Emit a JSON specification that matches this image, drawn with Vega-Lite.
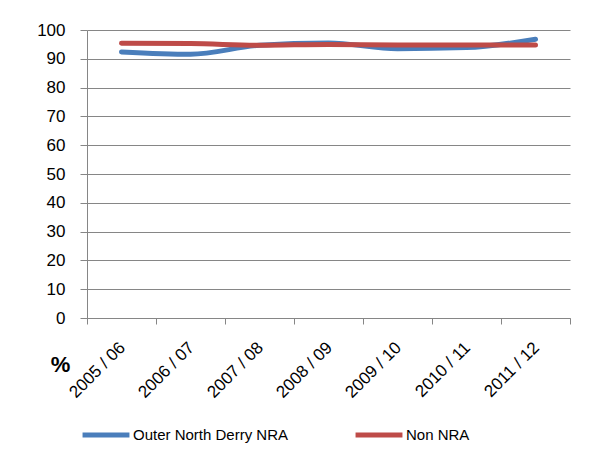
{
  "$schema": "https://vega.github.io/schema/vega-lite/v6.json",
  "autosize": "none",
  "width": 483,
  "height": 288,
  "padding": {"left": 87, "top": 30, "right": 25, "bottom": 135},
  "background": "white",
  "data": {
    "values": [
      {"year": "2005 / 06", "series": "Outer North Derry NRA", "value": 92.4},
      {"year": "2006 / 07", "series": "Outer North Derry NRA", "value": 91.6},
      {"year": "2007 / 08", "series": "Outer North Derry NRA", "value": 94.7},
      {"year": "2008 / 09", "series": "Outer North Derry NRA", "value": 95.5},
      {"year": "2009 / 10", "series": "Outer North Derry NRA", "value": 93.5},
      {"year": "2010 / 11", "series": "Outer North Derry NRA", "value": 93.9},
      {"year": "2011 / 12", "series": "Outer North Derry NRA", "value": 96.8},
      {"year": "2005 / 06", "series": "Non NRA", "value": 95.4},
      {"year": "2006 / 07", "series": "Non NRA", "value": 95.3},
      {"year": "2007 / 08", "series": "Non NRA", "value": 94.7},
      {"year": "2008 / 09", "series": "Non NRA", "value": 95.0},
      {"year": "2009 / 10", "series": "Non NRA", "value": 94.8},
      {"year": "2010 / 11", "series": "Non NRA", "value": 94.8},
      {"year": "2011 / 12", "series": "Non NRA", "value": 94.8}
    ]
  },
  "mark": {"type": "line", "strokeWidth": 5, "interpolate": "monotone", "strokeCap": "round"},
  "encoding": {
    "x": {
      "field": "year",
      "type": "nominal",
      "sort": null,
      "scale": {"type": "band", "paddingInner": 0, "paddingOuter": 0},
      "axis": {
        "title": "%",
        "titleFontSize": 22,
        "titleFontWeight": "bold",
        "titleFont": "Liberation Sans",
        "titleColor": "black",
        "titleX": -27,
        "titleY": 36,
        "titleAlign": "center",
        "tickBand": "extent",
        "tickSize": 6,
        "tickColor": "#868686",
        "domainColor": "#868686",
        "labelAngle": -45,
        "labelFont": "Liberation Sans",
        "labelFontSize": 17,
        "labelColor": "black",
        "labelPadding": 15,
        "labelOffset": -5,
        "grid": false
      }
    },
    "y": {
      "field": "value",
      "type": "quantitative",
      "scale": {"domain": [0, 100], "nice": false},
      "axis": {
        "title": null,
        "values": [0, 10, 20, 30, 40, 50, 60, 70, 80, 90, 100],
        "tickSize": 7,
        "tickColor": "#868686",
        "domainColor": "#868686",
        "gridColor": "#868686",
        "labelFont": "Liberation Sans",
        "labelFontSize": 17,
        "labelColor": "black",
        "labelPadding": 15
      }
    },
    "color": {
      "field": "series",
      "type": "nominal",
      "sort": ["Outer North Derry NRA", "Non NRA"],
      "scale": {"domain": ["Outer North Derry NRA", "Non NRA"], "range": ["#4a7ebb", "#be4b48"]},
      "legend": {
        "title": null,
        "orient": "none",
        "direction": "horizontal",
        "legendX": -7,
        "legendY": 379,
        "symbolType": "stroke",
        "symbolSize": 2200,
        "symbolStrokeWidth": 5,
        "labelFont": "Liberation Sans",
        "labelFontSize": 15,
        "labelColor": "black",
        "labelOffset": 1,
        "columnPadding": 56
      }
    }
  },
  "config": {"view": {"stroke": null}}
}
